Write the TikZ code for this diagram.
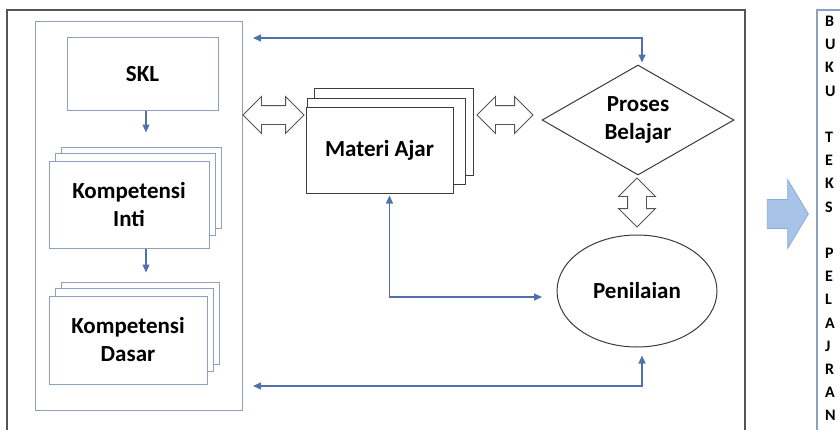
\documentclass[tikz,border=0pt]{standalone}
\usepackage{fontspec}
\setmainfont{Carlito}
\usetikzlibrary{shapes.geometric,shapes.arrows,arrows.meta,calc,backgrounds}

\definecolor{linkblue}{RGB}{79,114,175}
\definecolor{frameblue}{RGB}{143,160,190}
\definecolor{darkline}{RGB}{60,60,60}
\definecolor{framegray}{RGB}{85,85,85}
\definecolor{bigfill}{RGB}{167,196,232}
\definecolor{bigdraw}{RGB}{140,172,214}

\begin{document}
\begin{tikzpicture}[x=1pt,y=-1pt,
  txt/.style={font=\fontsize{23}{28}\selectfont\bfseries, align=center, text=black},
  bluebox/.style={draw=frameblue, line width=1pt, fill=white, inner sep=0pt, txt},
  blackbox/.style={draw=darkline, line width=1pt, fill=white, inner sep=0pt, txt},
  pagelayer/.style={line width=1pt, fill=white},
  conn/.style={draw=linkblue, line width=1.2pt,
    {Triangle[length=8pt,width=7pt]}-{Triangle[length=8pt,width=7pt]}},
  oneway/.style={draw=linkblue, line width=1.2pt, -{Triangle[length=8pt,width=7pt]}},
  hollow/.style={shape=double arrow, draw=framegray, fill=white, line width=0.9pt,
    inner xsep=0pt, inner ysep=9pt, double arrow head extend=9pt},
]
\useasboundingbox (0,0) rectangle (840,429);
\clip (0,0) rectangle (840,429);

% outer frame and the book column on the right
\draw[framegray, line width=1.2pt] (7,10) rectangle (745,445);
\draw[frameblue, line width=1.2pt] (817,10) rectangle (860,445);

% curriculum block: corners first, then the frame node between them
\coordinate (currNW) at (35,21);
\coordinate (currSE) at (242,410);
\draw[frameblue, line width=1pt] (currNW) rectangle (currSE);

\node[bluebox, minimum width=151pt, minimum height=73pt] (skl) at (142.5,74) {SKL};
\node[bluebox, minimum width=160pt, minimum height=87pt] (ki) at (129,204.5) {Kompetensi\\Inti};
\node[bluebox, minimum width=158pt, minimum height=88pt] (kd) at (128,340) {Kompetensi\\Dasar};

% learning material, process and assessment
\node[blackbox, minimum width=147pt, minimum height=86pt] (ma) at (379.5,150) {Materi Ajar};
\node[diamond, draw=darkline, line width=1pt, fill=white, aspect=1.75, inner sep=0pt,
  minimum width=192pt, minimum height=110pt, txt] (pb) at (638,120) {Proses\\Belajar};
\node[ellipse, draw=darkline, line width=1pt, fill=white, inner sep=0pt,
  minimum width=160pt, minimum height=112pt, txt] (pn) at (637,291) {Penilaian};

% stacked pages behind the multi-document boxes
\begin{scope}[on background layer]
  \foreach \n in {ki,kd}{
    \draw[pagelayer, draw=frameblue] ($(\n.north west)+(13,-13)$) rectangle ($(\n.south east)+(12,-20)$);
    \draw[pagelayer, draw=frameblue] ($(\n.north west)+(7,-7)$) rectangle ($(\n.south east)+(6,-13)$);
  }
  \draw[pagelayer, draw=darkline] ($(ma.north west)+(9,-18)$) rectangle ($(ma.south east)+(20,-18)$);
  \draw[pagelayer, draw=darkline] ($(ma.north west)+(2,-8)$) rectangle ($(ma.south east)+(12,-9)$);
\end{scope}

% hollow two-way arrows
\node[hollow, minimum height=61pt] (hl) at (273.5,115) {};
\node[hollow, minimum height=56pt] (hr) at (505,115) {};
\node[hollow, minimum height=49pt, rotate=90] (hv) at (637,202.5) {};

% flow inside the curriculum block
\draw[oneway, shorten >=28pt] ([xshift=3.5pt]skl.south) -- ([xshift=3.5pt]skl.south |- ki.north);
\draw[oneway, shorten >=23pt] ([xshift=17pt]ki.south) -- ([xshift=17pt]ki.south |- kd.north);

% feedback connectors
\coordinate (tl) at (253,38);
\coordinate (bl) at (253,386);
\coordinate (mr) at (542,297);
\draw[conn] (tl) -| ([xshift=4pt,yshift=2pt]pb.north);
\draw[conn] (bl) -| ([xshift=5pt,yshift=-8pt]pn.south);
\draw[conn] ([xshift=10pt,yshift=-2pt]ma.south) |- (mr);

% result arrow and the textbook label
\node[single arrow, draw=bigdraw, fill=bigfill, line width=0.8pt, inner xsep=0pt,
  inner ysep=14pt, single arrow head extend=20pt, single arrow tip angle=118,
  minimum height=41pt] (go) at (783.5,214) {};
\node[anchor=north west, inner sep=0pt, align=left,
  font=\fontsize{16}{23.2}\selectfont\bfseries] (book) at (825,16)
  {B\\U\\K\\U\\\mbox{}\\T\\E\\K\\S\\\mbox{}\\P\\E\\L\\A\\J\\R\\A\\N};
\end{tikzpicture}
\end{document}
